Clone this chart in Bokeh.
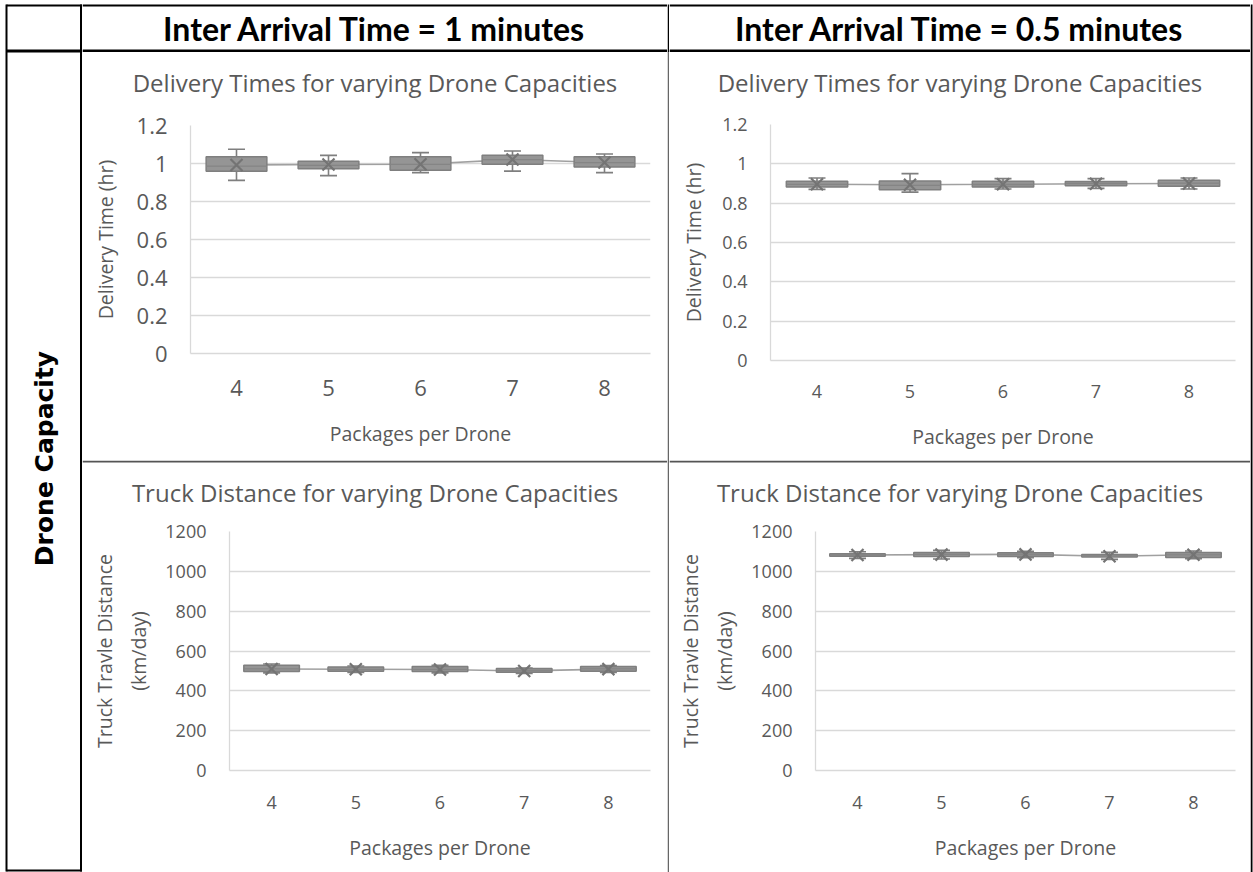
import math
from bokeh.plotting import figure
from bokeh.layouts import row, column
from bokeh.models import (Range1d, FixedTicker, NumeralTickFormatter, Whisker, TeeHead,
                          Label, LinearAxis, ColumnDataSource)
from bokeh.embed import file_html
from bokeh.resources import INLINE

# ---------------- data ----------------
packages = [4, 5, 6, 7, 8]

# Delivery time (hr), inter arrival time = 1 minute
dt1_min    = [0.911, 0.936, 0.952, 0.960, 0.952]
dt1_q1     = [0.959, 0.973, 0.964, 0.996, 0.982]
dt1_median = [0.986, 0.990, 0.995, 1.020, 1.005]
dt1_q3     = [1.035, 1.012, 1.035, 1.044, 1.035]
dt1_max    = [1.075, 1.043, 1.057, 1.066, 1.050]
dt1_mean   = [0.992, 0.995, 0.996, 1.021, 1.005]

# Delivery time (hr), inter arrival time = 0.5 minutes
dt05_min    = [0.870, 0.856, 0.872, 0.875, 0.872]
dt05_q1     = [0.882, 0.868, 0.882, 0.889, 0.886]
dt05_median = [0.896, 0.890, 0.895, 0.900, 0.902]
dt05_q3     = [0.911, 0.913, 0.911, 0.910, 0.917]
dt05_max    = [0.928, 0.950, 0.925, 0.925, 0.928]
dt05_mean   = [0.896, 0.894, 0.896, 0.899, 0.900]

# Truck travel distance (km/day), inter arrival time = 1 minute
td1_min    = [490, 492, 490, 487, 492]
td1_q1     = [497, 498, 497, 493, 498]
td1_median = [510, 508, 508, 502, 510]
td1_q3     = [528, 520, 522, 512, 522]
td1_max    = [535, 525, 528, 515, 527]
td1_mean   = [510, 508, 507, 500, 509]

# Truck travel distance (km/day), inter arrival time = 0.5 minutes
td05_min    = [1065, 1062, 1068, 1060, 1064]
td05_q1     = [1076, 1075, 1075, 1072, 1070]
td05_median = [1082, 1085, 1084, 1078, 1083]
td05_q3     = [1088, 1095, 1093, 1085, 1095]
td05_max    = [1098, 1105, 1100, 1095, 1102]
td05_mean   = [1082, 1084, 1085, 1076, 1083]

time_ticks = [0, 0.2, 0.4, 0.6, 0.8, 1.0, 1.2]
dist_ticks = [0, 200, 400, 600, 800, 1000, 1200]

header_left = "Inter Arrival Time = 1 minutes"
header_right = "Inter Arrival Time = 0.5 minutes"
row_label = "Drone Capacity"
title_time = "Delivery Times for varying Drone Capacities"
title_dist = "Truck Distance for varying Drone Capacities"
xlabel = "Packages per Drone"

# ---------------- style ----------------
FONT = "Open Sans"
TXT = "#595959"
GRID = "#d9d9d9"
BOX_FILL = "#959595"
BOX_LINE = "#7f7f7f"
MARK = "#747474"
MEANLINE = "#a0a0a0"
SEP = "#555555"
PAGE_H = 872
HALF_W = 0.33


def blank(w, h, bg="white"):
    p = figure(width=w, height=h, x_range=Range1d(0, w), y_range=Range1d(0, h),
               x_axis_type=None, y_axis_type=None, output_backend="svg",
               toolbar_location=None, min_border=0, outline_line_color=None,
               background_fill_color=bg, border_fill_color=bg, frame_align=False)
    p.grid.visible = False
    return p


def title_cell(w, h, text, text_y, top_line=False):
    p = blank(w, h)
    if top_line:
        p.segment(x0=[0], x1=[w], y0=[h - 1], y1=[h - 1], line_color=SEP, line_width=2)
    p.add_layout(Label(x=w / 2, y=text_y, text=text, text_align="center",
                       text_baseline="middle", text_color=TXT, text_font=FONT,
                       text_font_size="24px"))
    return p


def chart(w, h, fl, fr, ft, fb, y_end, ticks, fmt, d, ylab, ylab_standoff, tick_fs,
          xtick_standoff, ylab2=None, ylab2_standoff=5, lab_fs="19.5px",
          xlab_standoff=22, ytick_standoff=17):
    p = figure(width=w, height=h, x_range=Range1d(3.5, 8.5), y_range=Range1d(0, y_end),
               min_border_left=fl, min_border_right=w - fr, min_border_top=ft,
               min_border_bottom=h - fb, output_backend="svg", toolbar_location=None,
               outline_line_color=None, frame_align=False)
    p.xgrid.visible = False
    p.ygrid.grid_line_color = GRID
    p.ygrid.grid_line_width = 1.3
    p.ygrid.ticker = FixedTicker(ticks=ticks)

    for ax in (p.xaxis[0], p.yaxis[0]):
        ax.axis_line_color = GRID
        ax.axis_line_width = 1.3
        ax.major_tick_line_color = None
        ax.minor_tick_line_color = None
        ax.major_label_text_color = TXT
        ax.major_label_text_font = FONT
        ax.major_label_text_font_size = tick_fs
        ax.axis_label_text_color = TXT
        ax.axis_label_text_font = FONT
        ax.axis_label_text_font_style = "normal"
        ax.axis_label_text_font_size = lab_fs

    p.xaxis.ticker = FixedTicker(ticks=packages)
    p.xaxis.major_label_standoff = xtick_standoff
    p.xaxis.axis_label = xlabel
    p.xaxis.axis_label_standoff = xlab_standoff

    p.yaxis.ticker = FixedTicker(ticks=ticks)
    p.yaxis.formatter = NumeralTickFormatter(format=fmt)
    p.yaxis.major_label_standoff = ytick_standoff
    p.yaxis.axis_label = ylab
    p.yaxis.axis_label_standoff = ylab_standoff

    if ylab2:
        ax2 = LinearAxis(ticker=FixedTicker(ticks=[]), axis_label=ylab2,
                         axis_line_color=None, major_tick_line_color=None,
                         minor_tick_line_color=None, major_label_text_font_size="0px",
                         major_label_standoff=0, axis_label_standoff=ylab2_standoff,
                         axis_label_text_color=TXT, axis_label_text_font=FONT,
                         axis_label_text_font_style="normal", axis_label_text_font_size=lab_fs)
        p.add_layout(ax2, "left")

    src = ColumnDataSource(dict(x=packages, lo=d["min"], q1=d["q1"], med=d["median"],
                                q3=d["q3"], hi=d["max"], mean=d["mean"],
                                x0=[x - HALF_W for x in packages],
                                x1=[x + HALF_W for x in packages]))
    wh = Whisker(source=src, base="x", upper="hi", lower="lo", line_color=BOX_LINE,
                 line_width=1.6,
                 upper_head=TeeHead(size=17, line_color=BOX_LINE, line_width=1.6),
                 lower_head=TeeHead(size=17, line_color=BOX_LINE, line_width=1.6))
    p.add_layout(wh)
    p.line("x", "mean", source=src, line_color=MEANLINE, line_width=1.6)
    p.vbar(x="x", width=2 * HALF_W, bottom="q1", top="q3", source=src,
           fill_color=BOX_FILL, line_color=BOX_LINE, line_width=1.5)
    p.segment(x0="x0", x1="x1", y0="med", y1="med", source=src,
              line_color="#858585", line_width=1.3)
    p.scatter("x", "mean", source=src, marker="x", size=17, line_color=MARK,
              line_width=2.2)
    return p


def pack(mn, q1, md, q3, mx, me):
    return {"min": mn, "q1": q1, "median": md, "q3": q3, "max": mx, "mean": me}


# ---------------- cells ----------------
COL0_W, COL1_W, COL2_W, SEP_W, RIGHT_W = 82, 585, 581, 2, 3
HEAD_H = 52

# left column (merged cell with rotated label)
left = blank(COL0_W, PAGE_H)
left.segment(x0=[6, 81, 6, 6, 6], x1=[6, 81, 82, 82, 82],
             y0=[PAGE_H - 4, PAGE_H - 4, PAGE_H - 5, PAGE_H - 50.5, 2],
             y1=[1, 1, PAGE_H - 5, PAGE_H - 50.5, 2],
             line_color="black", line_width=[2, 3, 2, 3, 2])
left.add_layout(Label(x=44, y=PAGE_H - 458, text=row_label, angle=math.pi / 2,
                      text_align="center", text_baseline="middle", text_color="black",
                      text_font="DejaVu Sans", text_font_style="bold",
                      text_font_size="25px"))


def header(w, text):
    p = blank(w, HEAD_H)
    p.segment(x0=[0, 0], x1=[w, w], y0=[HEAD_H - 5, 1.5], y1=[HEAD_H - 5, 1.5],
              line_color="black", line_width=[2, 3])
    p.add_layout(Label(x=w / 2, y=HEAD_H - 28, text=text, text_align="center",
                       text_baseline="middle", text_color="black", text_font="Lato",
                       text_font_style="bold", text_font_size="32px"))
    return p


h1 = header(COL1_W, header_left)
h2 = header(COL2_W, header_right)

t1 = title_cell(COL1_W, 50, title_time, 20)
t2 = title_cell(COL2_W, 50, title_time, 20)
t3 = title_cell(COL1_W, 52, title_dist, 20, top_line=True)
t4 = title_cell(COL2_W, 52, title_dist, 20, top_line=True)

tl = chart(COL1_W, 358, 108, 568, 23, 251, 1.2, time_ticks, "0.[0]",
           pack(dt1_min, dt1_q1, dt1_median, dt1_q3, dt1_max, dt1_mean),
           "Delivery Time (hr)", 15, "22px", 20, xlab_standoff=21)
tr = chart(COL2_W, 358, 101, 566, 22, 258, 1.2, time_ticks, "0.[0]",
           pack(dt05_min, dt05_q1, dt05_median, dt05_q3, dt05_max, dt05_mean),
           "Delivery Time (hr)", 12, "18px", 18)
bl = chart(COL1_W, 360, 147, 568, 19, 258, 1200, dist_ticks, "0",
           pack(td1_min, td1_q1, td1_median, td1_q3, td1_max, td1_mean),
           "(km/day)", 10, "18px", 19, ylab2="Truck Travle Distance")
br = chart(COL2_W, 360, 146, 566, 19, 258, 1200, dist_ticks, "0",
           pack(td05_min, td05_q1, td05_median, td05_q3, td05_max, td05_mean),
           "(km/day)", 10, "18px", 19, ylab2="Truck Travle Distance")

mid = blank(SEP_W, PAGE_H)
mid.segment(x0=[1, 1], x1=[1, 1], y0=[PAGE_H - 4, PAGE_H - 52], y1=[PAGE_H - 52, 0],
            line_color=["black", "#666666"], line_width=2)

right = blank(RIGHT_W, PAGE_H)
right.segment(x0=[1], x1=[1], y0=[PAGE_H - 4], y1=[0], line_color="black", line_width=2)

layout = row(left,
             column(h1, t1, tl, t3, bl, spacing=0),
             mid,
             column(h2, t2, tr, t4, br, spacing=0),
             right, spacing=0)

open("out.html", "w").write(file_html(layout, INLINE))
